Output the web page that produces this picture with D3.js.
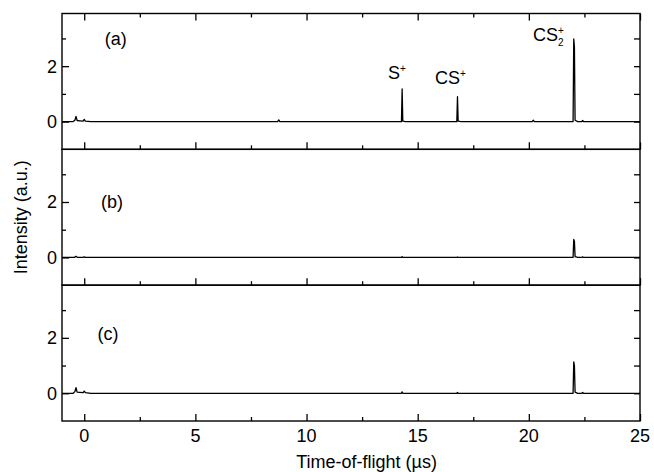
<!DOCTYPE html>
<html><head><meta charset="utf-8">
<script src="https://cdn.jsdelivr.net/npm/d3@7"></script>
<style>body{margin:0;background:#fff}svg{display:block}text{font-family:"Liberation Sans",Arial,sans-serif;fill:#000}</style>
</head><body><svg id="c" width="654" height="472"></svg>
<script>
// Data: time (µs) and intensity (a.u.)
const panelLabels = ["(a)", "(b)", "(c)"];
const timeA = [-1, -0.5, -0.42, -0.37, -0.32, -0.2, -0.05, 0.0, 0.05, 0.3, 8.7, 8.75, 8.8, 14.27, 14.3, 14.33, 14.45, 16.76, 16.79, 16.82, 16.95, 20.15, 20.2, 20.25, 21.99, 22.02, 22.05, 22.08, 22.2, 22.38, 22.42, 22.46, 25];
const intA  = [0, 0, 0.05, 0.19, 0.04, 0.03, 0.02, 0.08, 0.02, 0, 0, 0.06, 0, 0, 1.18, 0.02, 0, 0, 0.9, 0.02, 0, 0, 0.05, 0, 0, 2.98, 2.7, 0.05, 0, 0, 0.04, 0, 0];
const timeB = [-1, -0.45, -0.37, -0.3, -0.05, 0.0, 0.05, 14.27, 14.3, 14.33, 16.76, 16.79, 16.82, 21.99, 22.02, 22.05, 22.08, 22.2, 22.38, 22.42, 22.46, 25];
const intB  = [0, 0, 0.04, 0, 0, 0.02, 0, 0, 0.03, 0, 0, 0.02, 0, 0, 0.65, 0.58, 0.03, 0, 0, 0.02, 0, 0];
const timeC = [-1, -0.5, -0.42, -0.37, -0.32, -0.2, -0.05, 0.0, 0.05, 0.3, 14.27, 14.3, 14.33, 16.76, 16.79, 16.82, 21.99, 22.02, 22.05, 22.08, 22.2, 22.38, 22.42, 22.46, 25];
const intC  = [0, 0, 0.06, 0.2, 0.04, 0.03, 0.02, 0.08, 0.02, 0, 0, 0.05, 0, 0, 0.03, 0, 0, 1.13, 1.0, 0.04, 0, 0, 0.03, 0, 0];
const xTicks = [0, 5, 10, 15, 20, 25];
const xMinorTicks = [2.5, 7.5, 12.5, 17.5, 22.5];
const yTicks = [0, 2];
const yMinorTicks = [1, 3];
const xDomain = [-1, 25];
const yDomain = [-1, 3.9];

// layout of panel labels (data coordinates of label centre-left)
const labelPos = [[0.92, 3.0], [0.75, 2.0], [0.6, 2.15]];

const panels = [
  {label: panelLabels[0], t: timeA, v: intA},
  {label: panelLabels[1], t: timeB, v: intB},
  {label: panelLabels[2], t: timeC, v: intC}
];

const FS = 18;
const svg = d3.select("#c");
const L = 62, R = 640, T = 13.5, B = 421;
const ph = (B - T) / 3;
const x = d3.scaleLinear().domain(xDomain).range([L, R]);

panels.forEach((p, i) => {
  const top = T + i * ph, bot = top + ph;
  const y = d3.scaleLinear().domain(yDomain).range([bot, top]);
  const g = svg.append("g");
  const pts = p.t.map((t, k) => [t, p.v[k]]);
  g.append("path").datum(pts)
    .attr("d", d3.line().x(d => x(d[0])).y(d => y(d[1])))
    .attr("fill", "none").attr("stroke", "#000").attr("stroke-width", 1.3).attr("stroke-linejoin", "round");
  g.append("g").attr("transform", `translate(${L},0)`)
    .call(d3.axisRight(y).tickValues(yTicks).tickSize(7).tickFormat(""))
    .select(".domain").remove();
  g.append("g").attr("transform", `translate(${L},0)`)
    .call(d3.axisRight(y).tickValues(yMinorTicks).tickSize(4).tickFormat(""))
    .select(".domain").remove();
  yTicks.forEach(v => g.append("text").attr("x", L - 5).attr("y", y(v)).attr("dy", "0.36em")
    .attr("text-anchor", "end").attr("font-size", FS).text(v));
  g.append("g").attr("transform", `translate(${R},0)`)
    .call(d3.axisLeft(y).tickValues([0, 1, 2, 3]).tickSize(6).tickFormat(""))
    .select(".domain").remove();
  g.append("g").attr("transform", `translate(0,${bot})`)
    .call(d3.axisTop(x).tickValues(xTicks).tickSize(7).tickFormat(""))
    .select(".domain").remove();
  g.append("g").attr("transform", `translate(0,${bot})`)
    .call(d3.axisTop(x).tickValues(xMinorTicks).tickSize(4).tickFormat(""))
    .select(".domain").remove();
  if (i === 0) {
    g.append("g").attr("transform", `translate(0,${top})`)
      .call(d3.axisBottom(x).tickValues(xTicks).tickSize(7).tickFormat(""))
      .select(".domain").remove();
    g.append("g").attr("transform", `translate(0,${top})`)
      .call(d3.axisBottom(x).tickValues(xMinorTicks).tickSize(4).tickFormat(""))
      .select(".domain").remove();
  }
  g.selectAll(".tick line").attr("stroke", "#000").attr("stroke-width", 1.3);
  g.append("rect").attr("x", L).attr("y", top).attr("width", R - L).attr("height", ph)
    .attr("fill", "none").attr("stroke", "#000").attr("stroke-width", 1.4);
  g.append("text").attr("x", x(labelPos[i][0])).attr("y", y(labelPos[i][1])).attr("dy", "0.36em")
    .attr("font-size", FS).text(p.label);
  if (i === 2) {
    xTicks.forEach(v => g.append("text").attr("x", x(v)).attr("y", bot + 21)
      .attr("text-anchor", "middle").attr("font-size", FS).text(v));
  }
});

// peak annotations in panel (a)
const ya = d3.scaleLinear().domain(yDomain).range([T + ph, T]);
const ann = svg.append("g");
const s = ann.append("text").attr("x", x(13.66)).attr("y", ya(1.53)).attr("font-size", FS);
s.append("tspan").text("S");
s.append("tspan").attr("font-size", 10).attr("dy", -7).text("+");
const cs = ann.append("text").attr("x", x(15.78)).attr("y", ya(1.37)).attr("font-size", FS);
cs.append("tspan").text("CS");
cs.append("tspan").attr("font-size", 10).attr("dy", -7).text("+");
const cs2 = ann.append("text").attr("x", x(20.19)).attr("y", ya(2.92)).attr("font-size", FS);
cs2.append("tspan").text("CS");
cs2.append("tspan").attr("font-size", 10).attr("dy", -7).text("+");
cs2.append("tspan").attr("font-size", 10).attr("dx", -6).attr("dy", 12).text("2");

svg.append("text").attr("x", x(12.7)).attr("y", 468).attr("text-anchor", "middle")
  .attr("font-size", FS).text("Time-of-flight (µs)");
svg.append("text").attr("transform", `translate(27,${(T + B) / 2}) rotate(-90)`)
  .attr("text-anchor", "middle").attr("font-size", FS).text("Intensity (a.u.)");
</script></body></html>
